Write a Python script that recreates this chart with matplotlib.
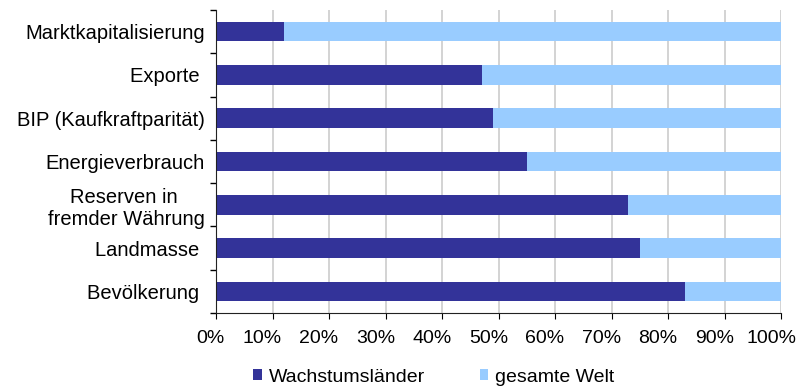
import matplotlib.pyplot as plt
import matplotlib.transforms as mtransforms
import numpy as np

kategorien = ["Marktkapitalisierung", "Exporte ", "BIP (Kaufkraftparität)",
              "Energieverbrauch", "Reserven in \nfremder Währung", "Landmasse ",
              "Bevölkerung "]
wachstum = [12, 47, 49, 55, 73, 75, 83]
welt = [100 - w for w in wachstum]
prozent = list(range(0, 101, 10))

dunkel = "#333399"
hell = "#99CCFF"

fig = plt.figure(figsize=(7.97, 3.89), dpi=100)
ax = fig.add_axes([216 / 797, 1 - 313 / 389, (781 - 216) / 797, (313 - 10) / 389])

y = np.arange(len(kategorien))
ax.barh(y, wachstum, height=0.45, color=dunkel, label="Wachstumsländer")
ax.barh(y, welt, left=wachstum, height=0.45, color=hell, label="gesamte Welt")

ax.set_xlim(0, 100)
ax.set_ylim(len(kategorien) - 0.5, -0.5)
ax.set_xticks(prozent)
ax.set_xticklabels([f"{v}%" for v in prozent], family="Liberation Sans", fontsize=14)
ax.set_yticks(y)
ax.set_yticklabels(kategorien, family="Liberation Sans", fontsize=14.5,
                   multialignment="center")
ax.set_yticks(np.arange(-0.5, len(kategorien)), minor=True)
ax.tick_params(axis="y", which="major", length=0, pad=8)
ax.tick_params(axis="y", which="minor", length=4, direction="out", width=1)
ax.tick_params(axis="x", length=4, direction="out", pad=8)

# Excel schiebt die Prozentlabels etwas nach links
for i, lab in enumerate(ax.get_xticklabels()):
    dx = -6 if i == 0 else -10
    lab.set_transform(lab.get_transform() +
                      mtransforms.ScaledTranslation(dx / 100, 0, fig.dpi_scale_trans))

ax.grid(axis="x", color="#cccccc", linewidth=1.2)
ax.set_axisbelow(True)
for s in ["top", "right"]:
    ax.spines[s].set_visible(False)
for s in ["left", "bottom"]:
    ax.spines[s].set_color("#222222")

fig.legend(*ax.get_legend_handles_labels(), loc="center",
           bbox_to_anchor=(434 / 797, 12 / 389), ncol=2, frameon=False,
           handlelength=0.45, handleheight=0.45, columnspacing=2.8, handletextpad=0.35,
           borderpad=0.1, prop={"family": "Liberation Sans", "size": 14})

fig.savefig("out.png", dpi=100)
